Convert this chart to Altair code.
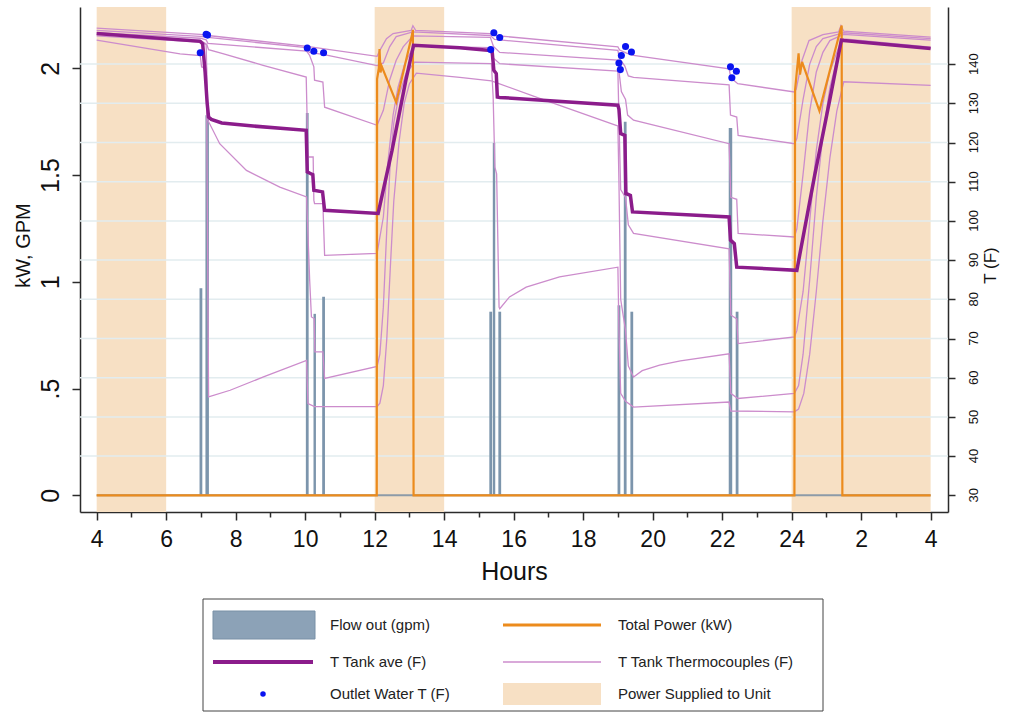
import altair as alt
import pandas as pd

# ---------------- values ----------------
shade_start = [4, 12, 24]
shade_end = [6, 14, 28]

flow_start = [6.96, 7.13, 10.02, 10.24, 10.49, 15.30, 15.40, 15.56, 18.99, 19.17, 19.36, 22.19, 22.39]
flow_end = [7.04, 7.23, 10.10, 10.31, 10.57, 15.38, 15.47, 15.64, 19.07, 19.25, 19.44, 22.29, 22.47]
flow_gpm = [0.97, 1.78, 1.79, 0.85, 0.93, 0.86, 1.65, 0.86, 0.89, 1.75, 0.86, 1.72, 0.86]

flow_base_hours = [4, 28]
flow_base_gpm = [0, 0]

power_hours = [4.0, 12.06, 12.07, 12.12, 12.14, 12.17, 12.2, 12.62, 13.08, 13.1, 13.12,
               24.08, 24.1, 24.2, 24.24, 24.3, 24.8, 24.86, 25.42, 25.44, 25.46, 28.0]
power_kw = [0, 0, 1.95, 2.0, 2.09, 1.98, 2.01, 1.84, 2.16, 2.18, 0,
            0, 1.9, 2.07, 1.97, 2.03, 1.8, 1.84, 2.19, 2.2, 0, 0]

avg_hours = [4.0, 6.98, 7.05, 7.12, 7.18, 7.22, 7.3, 7.6, 8.5, 10.03, 10.06, 10.15, 10.22, 10.25,
             10.5, 10.56, 12.1, 12.5, 12.9, 13.12, 14.45, 15.33, 15.38, 15.43, 15.5, 15.53, 15.6,
             19.0, 19.03, 19.08, 19.2, 19.23, 19.36, 19.42, 22.2, 22.24, 22.35, 22.42, 24.15,
             24.66, 25.1, 25.43, 25.5, 28.0]
avg_temp = [147.8, 145.8, 145.2, 138.0, 130.0, 126.5, 125.9, 125.0, 124.2, 123.1, 112.5, 112.1,
            111.8, 107.8, 107.4, 102.7, 101.9, 118.0, 136.0, 144.8, 144.2, 143.5, 143.4, 138.4,
            137.6, 131.6, 131.5, 129.5, 128.5, 122.3, 121.8, 107.0, 106.5, 102.3, 101.0, 95.1,
            94.2, 88.2, 87.4, 111.5, 131.0, 146.1, 146.0, 144.0]

outlet_hours = [6.98, 7.15, 7.19, 10.06, 10.25, 10.53, 15.34, 15.43, 15.6, 19.03, 19.07, 19.1,
                19.22, 19.39, 22.24, 22.28, 22.41]
outlet_temp = [142.9, 147.6, 147.4, 144.1, 143.3, 142.9, 143.7, 148.0, 146.8, 140.3, 138.6, 142.2,
               144.5, 143.1, 139.3, 136.5, 138.2]

tc1_hours = [4.0, 6.98, 7.2, 10.0, 12.07, 12.15, 12.34, 12.53, 13.05, 13.1, 13.18, 15.33, 15.45,
             19.0, 19.05, 19.25, 19.45, 22.2, 22.25, 22.45, 24.08, 24.13, 24.3, 24.5, 24.9, 25.35,
             25.42, 25.5, 28.0]
tc1_temp = [149.2, 147.6, 147.3, 144.6, 142.0, 143.5, 146.5, 147.8, 148.6, 149.8, 148.6, 147.8,
            147.3, 144.4, 143.6, 142.8, 142.2, 138.8, 136.5, 135.0, 132.9, 133.5, 141.0, 146.0,
            147.5, 148.2, 149.8, 148.4, 146.9]

tc2_hours = [4.0, 6.98, 7.2, 10.04, 10.12, 10.55, 12.07, 12.25, 12.43, 12.62, 13.1, 15.33, 15.45,
             19.0, 19.04, 19.2, 19.3, 19.45, 22.2, 22.24, 22.42, 22.46, 24.08, 24.15, 24.33, 24.52,
             24.71, 24.9, 25.3, 25.5, 28.0]
tc2_temp = [148.6, 147.1, 146.8, 144.2, 143.0, 142.4, 139.6, 140.3, 144.4, 147.0, 148.2, 147.3,
            146.3, 143.5, 141.5, 139.5, 137.0, 136.6, 134.7, 127.0, 126.5, 121.8, 119.7, 121.0,
            131.0, 140.0, 144.5, 146.5, 147.5, 148.0, 146.5]

tc3_hours = [4.0, 6.98, 7.15, 7.2, 10.04, 10.13, 10.25, 10.27, 10.51, 10.56, 12.07, 12.25, 12.43,
             12.62, 12.82, 13.1, 15.33, 15.42, 15.6, 19.0, 19.04, 19.1, 19.22, 19.28, 19.45, 22.2,
             22.25, 22.42, 22.46, 24.08, 24.15, 24.33, 24.52, 24.71, 24.9, 25.1, 25.4, 25.5, 28.0]
tc3_temp = [148.0, 146.6, 146.2, 145.3, 143.3, 142.2, 139.3, 135.9, 135.4, 129.0, 124.4, 128.2,
            135.9, 141.0, 144.4, 147.2, 146.8, 144.5, 143.0, 141.0, 137.5, 133.0, 131.0, 127.0,
            125.7, 119.7, 106.0, 105.5, 96.8, 95.9, 98.0, 112.0, 128.0, 138.0, 143.0, 146.0,
            147.2, 147.6, 146.1]

tc4_hours = [4.0, 6.98, 7.17, 7.22, 7.63, 8.79, 10.03, 10.08, 10.23, 10.25, 10.27, 10.51, 10.56,
             12.07, 12.25, 12.38, 12.53, 12.67, 12.86, 13.12, 15.33, 15.42, 15.6, 19.0, 19.03,
             19.08, 19.22, 19.3, 19.45, 22.2, 22.25, 22.42, 22.46, 24.08, 24.15, 24.33, 24.52,
             24.71, 24.9, 25.1, 25.3, 25.45, 28.0]
tc4_temp = [147.6, 146.1, 145.0, 143.7, 142.7, 139.7, 136.7, 116.3, 116.3, 105.3, 104.4, 104.4,
            91.2, 91.7, 101.0, 115.0, 127.0, 134.0, 140.0, 144.6, 144.2, 141.5, 140.1, 138.2,
            126.0, 108.0, 106.0, 99.0, 96.8, 92.9, 76.0, 75.0, 68.7, 70.4, 72.0, 82.0, 100.0,
            118.0, 130.0, 138.0, 143.0, 146.5, 144.3]

tc5_hours = [4.0, 6.98, 7.15, 7.2, 7.54, 8.31, 9.27, 10.04, 10.13, 10.18, 10.26, 10.28, 10.51,
             10.56, 12.07, 12.15, 12.25, 12.35, 12.45, 12.55, 12.7, 12.9, 13.15, 15.36, 15.41,
             15.46, 15.51, 15.58, 15.6, 15.88, 16.36, 17.32, 19.0, 19.03, 19.08, 19.22, 19.45,
             22.2, 22.25, 24.08, 24.2, 24.35, 24.52, 24.71, 24.9, 25.1, 25.3, 25.5, 28.0]
tc5_temp = [147.2, 145.6, 145.0, 125.7, 119.7, 112.9, 108.6, 106.1, 84.8, 75.5, 75.1, 66.6, 66.6,
            59.8, 62.9, 66.0, 78.0, 98.0, 115.0, 125.0, 132.0, 137.5, 140.5, 140.1, 131.6, 113.7,
            112.0, 78.0, 77.6, 80.6, 83.1, 85.7, 88.2, 72.0, 56.0, 54.0, 52.5, 53.8, 51.5, 51.3,
            52.0, 56.0, 66.0, 82.0, 100.0, 116.0, 128.0, 135.5, 134.6]

tc6_hours = [4.0, 6.4, 6.98, 7.02, 7.16, 7.22, 7.84, 8.8, 10.04, 10.08, 10.27, 12.07, 12.15, 12.25,
             12.35, 12.45, 12.55, 12.7, 12.85, 13.0, 13.2, 14.45, 15.36, 16.65, 18.95, 19.0, 19.03,
             19.08, 19.22, 19.3, 19.45, 19.7, 20.2, 20.8, 22.2, 22.25, 22.45, 24.08, 24.2, 24.33,
             24.52, 24.71, 24.9, 25.1, 25.3, 25.45, 28.0]
tc6_temp = [146.1, 142.6, 142.2, 139.3, 139.0, 55.1, 56.8, 60.2, 64.4, 53.4, 52.6, 52.6, 53.5,
            58.0, 70.0, 88.0, 105.0, 120.0, 130.0, 135.0, 137.7, 136.6, 135.7, 131.6, 124.4, 124.2,
            110.0, 80.0, 72.0, 63.0, 60.2, 61.8, 63.2, 64.3, 66.1, 56.0, 54.7, 56.0, 58.0, 66.0,
            85.0, 106.0, 122.0, 134.0, 141.0, 146.0, 144.0]

grid_temps = [40, 50, 60, 70, 80, 90, 100, 110, 120, 130, 140]
right_ticks = [30, 40, 50, 60, 70, 80, 90, 100, 110, 120, 130, 140]
left_ticks = [0, 0.5, 1, 1.5, 2]
x_major = [4, 6, 8, 10, 12, 14, 16, 18, 20, 22, 24, 26, 28]
x_minor = [5, 7, 9, 11, 13, 15, 17, 19, 21, 23, 25, 27]

legend_labels = ["Flow out (gpm)", "Total Power (kW)", "T Tank ave (F)",
                 "T Tank Thermocouples (F)", "Outlet Water T (F)", "Power Supplied to Unit"]

# ---------------- tables ----------------
shade_df = pd.DataFrame({"start": shade_start, "end": shade_end})
flow_df = pd.DataFrame({"start": flow_start, "end": flow_end, "gpm": flow_gpm})
base_df = pd.DataFrame({"h": flow_base_hours, "v": flow_base_gpm})
power_df = pd.DataFrame({"h": power_hours, "kw": power_kw})
avg_df = pd.DataFrame({"h": avg_hours, "t": avg_temp})
outlet_df = pd.DataFrame({"h": outlet_hours, "t": outlet_temp})
grid_df = pd.DataFrame({"t": grid_temps})
rlab_df = pd.DataFrame({"t": right_ticks, "lab": [str(v) for v in right_ticks]})
tc_frames = []
for name, hs, ts in [("1", tc1_hours, tc1_temp), ("2", tc2_hours, tc2_temp),
                     ("3", tc3_hours, tc3_temp), ("4", tc4_hours, tc4_temp),
                     ("5", tc5_hours, tc5_temp), ("6", tc6_hours, tc6_temp)]:
    tc_frames.append(pd.DataFrame({"tc": name, "h": hs, "t": ts, "i": range(len(hs))}))
tc_df = pd.concat(tc_frames, ignore_index=True)
one = pd.DataFrame({"k": [0]})

# ---------------- styles ----------------
W, H = 868, 505
FONT = "Liberation Sans"
AX = "#2b2b2b"
BEIGE = "#F7E0C4"
GRID = "#E2ECEF"
FLOW = "#7C95AC"
ORANGE = "#EC8B1C"
PURPLE = "#8B1C8B"
PINK = "#CC8CCC"
BLUE = "#0A14F0"

XDOM = [3.52, 28.5]
LDOM = [-0.078, 2.287]
RDOM = [25.74, 154.57]


def xs():
    return alt.Scale(domain=XDOM, nice=False, zero=False)


def ls():
    return alt.Scale(domain=LDOM, nice=False, zero=False)


def rs():
    return alt.Scale(domain=RDOM, nice=False, zero=False)


x_axis = alt.Axis(orient="bottom", values=x_major, format="~g",
                  labelExpr="datum.value > 24 ? '' + (datum.value - 24) : datum.label",
                  tickSize=8, tickWidth=1.5, tickColor=AX, domainColor=AX, domainWidth=1.5,
                  labelFontSize=23, labelFont=FONT, labelColor="#111", labelPadding=8,
                  title="Hours", titleFontSize=25, titleFont=FONT, titleFontWeight="normal",
                  titleColor="#111", titlePadding=8, grid=False, labelFlush=False)
x_minor_axis = alt.Axis(orient="bottom", values=x_minor, labels=False, tickSize=5, tickWidth=1.5,
                        tickColor=AX, domain=False, grid=False, title="")
left_axis = alt.Axis(orient="left", values=left_ticks, format="~g",
                     labelExpr="datum.value == 0.5 ? '.5' : datum.label",
                     labelAngle=270, labelAlign="center", labelBaseline="bottom",
                     labelFontSize=25, labelFont=FONT, labelColor="#111", labelPadding=9,
                     tickSize=8, tickWidth=1.5, tickColor=AX, domainColor=AX, domainWidth=1.5,
                     grid=False, title="kW, GPM", titleFontSize=20, titleFont=FONT,
                     titleFontWeight="normal", titleColor="#111", titleAngle=270,
                     titleX=-57, titleY=238, titleAlign="center", titleBaseline="middle")
right_axis = alt.Axis(orient="right", values=right_ticks, labels=False,
                      tickSize=7, tickWidth=1.5, tickColor=AX, domainColor=AX,
                      domainWidth=1.5, grid=False, title="T (F)", titleFontSize=17,
                      titleFont=FONT, titleFontWeight="normal", titleColor="#111", titleAngle=270,
                      titleX=42, titleY=258, titleAlign="center", titleBaseline="middle")

# ---------------- layers ----------------
shade = alt.Chart(shade_df).mark_rect(color=BEIGE).encode(
    x=alt.X("start:Q", scale=xs(), axis=x_minor_axis), x2="end:Q",
    y=alt.value(0), y2=alt.value(H))

grid = alt.Chart(grid_df).mark_rule(color=GRID, strokeWidth=1.5).encode(
    y=alt.Y("t:Q", scale=rs(), axis=None))

flow = alt.Chart(flow_df).mark_rect(color=FLOW).encode(
    x=alt.X("start:Q", scale=xs(), axis=x_axis), x2="end:Q",
    y=alt.Y("gpm:Q", scale=ls(), axis=left_axis), y2=alt.Y2(datum=0))

flow_base = alt.Chart(base_df).mark_line(color="#8D9BA8", strokeWidth=2).encode(
    x=alt.X("h:Q", scale=xs(), axis=None), y=alt.Y("v:Q", scale=ls(), axis=None))

tcs = alt.Chart(tc_df).mark_line(color=PINK, strokeWidth=1.3, clip=True).encode(
    x=alt.X("h:Q", scale=xs(), axis=None),
    y=alt.Y("t:Q", scale=rs(), axis=right_axis),
    detail="tc:N", order="i:Q")

# right-axis tick labels, rotated like the reference
rlabels = alt.Chart(rlab_df).mark_text(angle=270, align="center", baseline="top", fontSize=13,
                                       font=FONT, color="#111").encode(
    x=alt.value(W + 20), y=alt.Y("t:Q", scale=rs(), axis=None), text="lab:N")

power = alt.Chart(power_df).mark_line(color=ORANGE, strokeWidth=2.2, clip=True).encode(
    x=alt.X("h:Q", scale=xs(), axis=None), y=alt.Y("kw:Q", scale=ls(), axis=None))

avg = alt.Chart(avg_df).mark_line(color=PURPLE, strokeWidth=3.5, clip=True).encode(
    x=alt.X("h:Q", scale=xs(), axis=None), y=alt.Y("t:Q", scale=rs(), axis=None))

dots = alt.Chart(outlet_df).mark_circle(color=BLUE, size=50, opacity=1).encode(
    x=alt.X("h:Q", scale=xs(), axis=None), y=alt.Y("t:Q", scale=rs(), axis=None))

# ---------------- legend (below the plot) ----------------
LX1, LX2 = 133, 423     # swatch left edge, columns 1 / 2
SW = 100                 # swatch width
TX1, TX2 = 250, 538     # text x, columns 1 / 2
R1, R2, R3 = 618, 655, 687

leg = [
    alt.Chart(one).mark_rect(fill="white", stroke="#444", strokeWidth=1).encode(
        x=alt.value(123), x2=alt.value(743), y=alt.value(592), y2=alt.value(704)),
    alt.Chart(one).mark_rect(fill="#8CA2B7", stroke="#7890A6", strokeWidth=1).encode(
        x=alt.value(LX1), x2=alt.value(LX1 + SW + 2), y=alt.value(R1 - 14), y2=alt.value(R1 + 14)),
    alt.Chart(one).mark_rule(color=ORANGE, strokeWidth=3).encode(
        x=alt.value(LX2), x2=alt.value(LX2 + 98), y=alt.value(R1)),
    alt.Chart(one).mark_rule(color=PURPLE, strokeWidth=4).encode(
        x=alt.value(LX1), x2=alt.value(LX1 + SW), y=alt.value(R2)),
    alt.Chart(one).mark_rule(color=PINK, strokeWidth=1.5).encode(
        x=alt.value(LX2), x2=alt.value(LX2 + 98), y=alt.value(R2)),
    alt.Chart(one).mark_circle(color=BLUE, size=30, opacity=1).encode(
        x=alt.value(LX1 + 50), y=alt.value(R3)),
    alt.Chart(one).mark_rect(color=BEIGE).encode(
        x=alt.value(LX2), x2=alt.value(LX2 + 98), y=alt.value(R3 - 11), y2=alt.value(R3 + 11)),
]
text_pos = [(TX1, R1), (TX2, R1), (TX1, R2), (TX2, R2), (TX1, R3), (TX2, R3)]
for lab, (tx, ty) in zip(legend_labels, text_pos):
    leg.append(alt.Chart(one).mark_text(align="left", baseline="middle", fontSize=15, font=FONT,
                                        color="#222").encode(
        x=alt.value(tx), y=alt.value(ty), text=alt.value(lab)))

chart = alt.layer(shade, grid, flow, flow_base, tcs, rlabels, power, avg, dots, *leg).resolve_scale(
    x="independent", y="independent"
).properties(
    width=W, height=H,
    padding={"left": 80, "top": 7, "right": 62, "bottom": 203},
    autosize=alt.AutoSizeParams(type="none"),
).configure_view(stroke=None)

chart.save("out.html", embed_options={"renderer": "svg", "actions": False})
